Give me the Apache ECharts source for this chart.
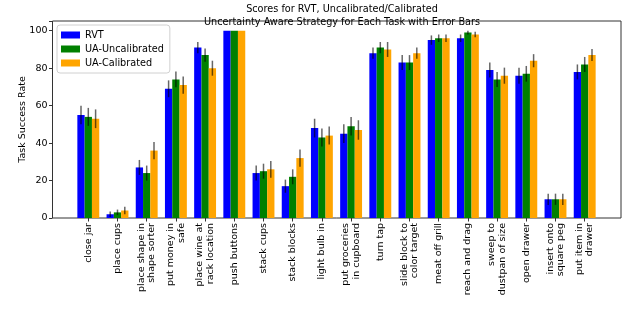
<!DOCTYPE html>
<html>
<head>
<meta charset="utf-8">
<script src="https://cdn.jsdelivr.net/npm/echarts@6/dist/echarts.min.js"></script>
<style>html,body{margin:0;padding:0;background:#fff}#c{width:640px;height:313px}</style>
</head>
<body>
<div id="c"></div>
<script>
const categories = ['close jar','place cups','place shape in\nshape sorter','put money in\nsafe','place wine at\nrack location','push buttons','stack cups','stack blocks','light bulb in','put groceries\nin cupboard','turn tap','slide block to\ncolor target','meat off grill','reach and drag','sweep to\ndustpan of size','open drawer','insert onto\nsquare peg','put item in\ndrawer'];
const seriesNames = ['RVT','UA-Uncalibrated','UA-Calibrated'];
const rvt = [55,2,27,69,91,100,24,17,48,45,88,83,95,96,79,76,10,78];
const uncal = [54,3,24,74,87,100,25,22,43,49,91,83,96,99,74,77,10,82];
const cal = [53,4,36,71,80,100,26,32,44,47,90,88,96,98,76,84,10,87];
const rvtErr = [5,1.5,4,4.5,3,0,4,3.5,5,5,3,4,2.5,2,4,4.3,3,4];
const uncalErr = [4.8,1.5,4,4.2,3.5,0,4,4,4.8,5,3,4,2,1,4,4.2,3,4];
const calErr = [5,2,4.6,4.6,4,0,4.5,4.6,4.8,5.2,4,3,2,1.5,4.3,3.5,3,3.2];
const yTicks = [0,20,40,60,80,100];

const colors = ['#0000ff','#008000','#ffa500'];
const BAR_W = 7.3;
const FONT = 'DejaVu Sans';
const vals = [rvt, uncal, cal];
const errs = [rvtErr, uncalErr, calErr];

const chart = echarts.init(document.getElementById('c'), null, {renderer:'canvas'});

const barSeries = vals.map((v,k)=>({
  name: seriesNames[k], type:'bar', xAxisIndex:1, yAxisIndex:1,
  data: v, barWidth: BAR_W, barGap: '0%',
  itemStyle:{color: colors[k]}, silent:true, z:2
}));
const errSeries = errs.map((e,k)=>({
  type:'custom', xAxisIndex:1, yAxisIndex:1, z:5, silent:true,
  data: e.map((d,i)=>[i, vals[k][i]-d, vals[k][i]+d, d]),
  renderItem: function(params, api){
    if (api.value(3) <= 0) return null;
    const c = api.value(0);
    const lo = api.coord([c, api.value(1)]);
    const hi = api.coord([c, api.value(2)]);
    const off = (k-1)*BAR_W;
    return {type:'line', shape:{x1:lo[0]+off, y1:lo[1], x2:hi[0]+off, y2:hi[1]},
      style:{stroke:'rgba(0,0,0,0.6)', lineWidth:1.5}};
  }
}));

chart.setOption({
  animation:false,
  textStyle:{fontFamily:FONT},
  title:{
    text:'Scores for RVT, Uncalibrated/Calibrated\nUncertainty Aware Strategy for Each Task with Error Bars',
    left:337, top:-1.5, textAlign:'center',
    textStyle:{fontFamily:FONT, fontSize:9.7, fontWeight:'normal', color:'#000', lineHeight:12.5}
  },
  legend:{
    data: seriesNames, orient:'vertical', left:57, top:25,
    icon:'rect', itemWidth:19, itemHeight:7, itemGap:0,
    padding:[3,6,3,4],
    borderColor:'#d0d0d0', borderWidth:1, borderRadius:3,
    backgroundColor:'rgba(255,255,255,0.8)',
    textStyle:{fontFamily:FONT, fontSize:9.7, color:'#000', lineHeight:14}
  },
  grid:[
    {left:52.5, right:19, top:21, bottom:95, show:true, borderColor:'#333', borderWidth:1, backgroundColor:'transparent'},
    {left:73.7, right:40.7, top:21, bottom:95}
  ],
  xAxis:[
    {type:'value', gridIndex:0, min:0, max:1, show:false},
    {type:'category', gridIndex:1, data:categories, boundaryGap:true,
     axisLine:{show:false},
     axisTick:{show:true, alignWithLabel:true, length:3.5, lineStyle:{color:'#333'}},
     axisLabel:{interval:0, rotate:90, margin:5, fontFamily:FONT, fontSize:9.5, color:'#000', lineHeight:10.5}}
  ],
  yAxis:[
    {type:'value', gridIndex:0, min:0, max:105.2, interval:20,
     name:'Task Success Rate', nameLocation:'middle', nameGap:25, nameMoveOverlap:false,
     nameTextStyle:{fontFamily:FONT, fontSize:9.5, color:'#000'},
     axisLine:{show:false}, splitLine:{show:false},
     axisTick:{show:true, length:3.5, lineStyle:{color:'#333'}},
     axisLabel:{margin:5, fontFamily:FONT, fontSize:9.5, color:'#000',
       formatter: v => yTicks.indexOf(v) >= 0 ? String(v) : ''}},
    {type:'value', gridIndex:1, min:0, max:105.2, interval:20, show:false}
  ],
  series: barSeries.concat(errSeries)
});
</script>
</body>
</html>
